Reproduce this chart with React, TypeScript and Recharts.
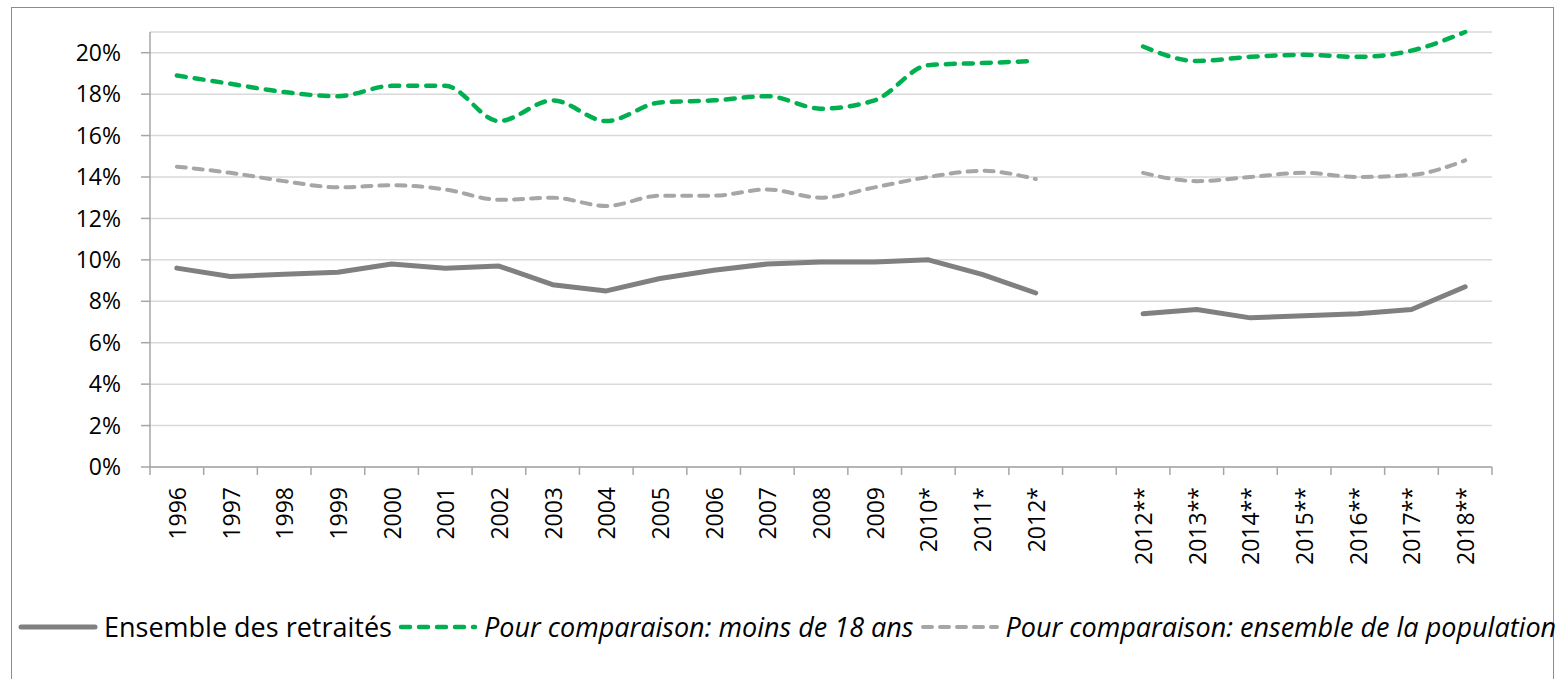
import React from 'react';
import { LineChart, Line, XAxis, YAxis, CartesianGrid } from 'recharts';

// Années (la catégorie vide sépare les deux séries méthodologiques)
const years = [
  '1996', '1997', '1998', '1999', '2000', '2001', '2002', '2003', '2004',
  '2005', '2006', '2007', '2008', '2009', '2010*', '2011*', '2012*', '',
  '2012**', '2013**', '2014**', '2015**', '2016**', '2017**', '2018**',
];

// Taux de pauvreté, en %
const retraites = [
  9.6, 9.2, 9.3, 9.4, 9.8, 9.6, 9.7, 8.8, 8.5, 9.1, 9.5, 9.8, 9.9, 9.9, 10.0, 9.3, 8.4,
  null, 7.4, 7.6, 7.2, 7.3, 7.4, 7.6, 8.7,
];
const moins18 = [
  18.9, 18.5, 18.1, 17.9, 18.4, 18.4, 16.7, 17.7, 16.7, 17.6, 17.7, 17.9, 17.3, 17.7, 19.4, 19.5, 19.6,
  null, 20.3, 19.6, 19.8, 19.9, 19.8, 20.1, 21.0,
];
const population = [
  14.5, 14.2, 13.8, 13.5, 13.6, 13.4, 12.9, 13.0, 12.6, 13.1, 13.1, 13.4, 13.0, 13.5, 14.0, 14.3, 13.9,
  null, 14.2, 13.8, 14.0, 14.2, 14.0, 14.1, 14.8,
];

const yTicks = [0, 2, 4, 6, 8, 10, 12, 14, 16, 18, 20];

const seriesNames = {
  retraites: 'Ensemble des retraités',
  moins18: 'Pour comparaison: moins de 18 ans',
  population: 'Pour comparaison: ensemble de la population',
};

const data = years.map((year, i) => ({
  year,
  retraites: retraites[i],
  moins18: moins18[i],
  population: population[i],
}));

const WIDTH = 1559;
const HEIGHT = 679;
const PLOT_LEFT = 150;
const PLOT_RIGHT = 1492;
const PLOT_TOP = 32;
const PLOT_BOTTOM = 467;
const BAND = (PLOT_RIGHT - PLOT_LEFT) / years.length;

const FONT = "'Open Sans', sans-serif";
const AXIS_COLOR = '#a6a6a6';
const GRID_COLOR = '#d9d9d9';
const DARK_GREY = '#808080';
const GREEN = '#00b050';
const LIGHT_GREY = '#a6a6a6';

// Graduations entre les catégories, comme dans Excel
function XTick(props: any) {
  const { x, y, payload, index } = props;
  const ty = y + 20;
  return (
    <g>
      <line x1={x - BAND / 2} x2={x - BAND / 2} y1={y} y2={y + 8} stroke={AXIS_COLOR} strokeWidth={1.5} />
      {index === years.length - 1 && (
        <line x1={x + BAND / 2} x2={x + BAND / 2} y1={y} y2={y + 8} stroke={AXIS_COLOR} strokeWidth={1.5} />
      )}
      <text
        x={x}
        y={ty}
        transform={`rotate(-90 ${x} ${ty})`}
        textAnchor="end"
        dominantBaseline="central"
        fontSize={23}
        fontFamily={FONT}
        fill="#000"
      >
        {payload.value}
      </text>
    </g>
  );
}

function LegendIcon({ color, dash, width }: { color: string; dash?: string; width: number }) {
  return (
    <svg width={80} height={12} style={{ display: 'block' }}>
      <line
        x1={3}
        x2={77}
        y1={6}
        y2={6}
        stroke={color}
        strokeWidth={width}
        strokeDasharray={dash}
        strokeLinecap="round"
      />
    </svg>
  );
}

function LegendItem({ color, dash, width, label, italic }: any) {
  return (
    <div style={{ display: 'flex', alignItems: 'center', marginRight: 6 }}>
      <LegendIcon color={color} dash={dash} width={width} />
      <span style={{ marginLeft: 6, fontStyle: italic ? 'italic' : 'normal', whiteSpace: 'nowrap' }}>{label}</span>
    </div>
  );
}

export default function App() {
  return (
    <div style={{ position: 'absolute', left: 0, top: 0, width: WIDTH, height: HEIGHT, background: '#fff', fontFamily: FONT, overflow: 'hidden' }}>
      <div
        style={{
          position: 'absolute',
          left: 11,
          top: 7,
          width: 1543,
          height: 700,
          border: '1.5px solid #8c8c8c',
          boxSizing: 'border-box',
        }}
      />
      <div style={{ position: 'absolute', left: 0, top: 0 }}>
        <LineChart
          width={WIDTH}
          height={HEIGHT}
          data={data}
          margin={{ top: PLOT_TOP, right: WIDTH - PLOT_RIGHT, left: 0, bottom: 0 }}
        >
          <CartesianGrid vertical={false} stroke={GRID_COLOR} strokeWidth={1.5} />
          <XAxis
            dataKey="year"
            type="category"
            interval={0}
            padding={{ left: BAND / 2, right: BAND / 2 }}
            height={HEIGHT - PLOT_BOTTOM}
            tickSize={0}
            tickMargin={0}
            tickLine={false}
            axisLine={{ stroke: AXIS_COLOR, strokeWidth: 1.5 }}
            tick={<XTick />}
          />
          <YAxis
            domain={[0, 21]}
            ticks={yTicks}
            interval={0}
            width={PLOT_LEFT}
            tickFormatter={(v: number) => `${v}%`}
            tickSize={9}
            tickMargin={20}
            axisLine={{ stroke: AXIS_COLOR, strokeWidth: 1.5 }}
            tickLine={{ stroke: AXIS_COLOR, strokeWidth: 1.5 }}
            tick={{ fontSize: 23, fill: '#000', fontFamily: FONT }}
          />
          <Line
            dataKey="retraites"
            name={seriesNames.retraites}
            type="linear"
            stroke={DARK_GREY}
            strokeWidth={5}
            strokeLinejoin="round"
            strokeLinecap="round"
            dot={false}
            activeDot={false}
            connectNulls={false}
            isAnimationActive={false}
          />
          <Line
            dataKey="moins18"
            name={seriesNames.moins18}
            type="monotone"
            stroke={GREEN}
            strokeWidth={4.5}
            strokeDasharray="9 9"
            strokeLinecap="round"
            dot={false}
            activeDot={false}
            connectNulls={false}
            isAnimationActive={false}
          />
          <Line
            dataKey="population"
            name={seriesNames.population}
            type="monotone"
            stroke={LIGHT_GREY}
            strokeWidth={4}
            strokeDasharray="9 8"
            strokeLinecap="round"
            dot={false}
            activeDot={false}
            connectNulls={false}
            isAnimationActive={false}
          />
        </LineChart>
      </div>
      <div
        style={{
          position: 'absolute',
          left: 18,
          top: 608,
          display: 'flex',
          alignItems: 'center',
          fontSize: 27,
          color: '#000',
          lineHeight: '38px',
        }}
      >
        <LegendItem color={DARK_GREY} width={5} label={seriesNames.retraites} />
        <LegendItem color={GREEN} width={4.5} dash="9 9" label={seriesNames.moins18} italic />
        <LegendItem color={LIGHT_GREY} width={4} dash="9 8" label={seriesNames.population} italic />
      </div>
    </div>
  );
}
